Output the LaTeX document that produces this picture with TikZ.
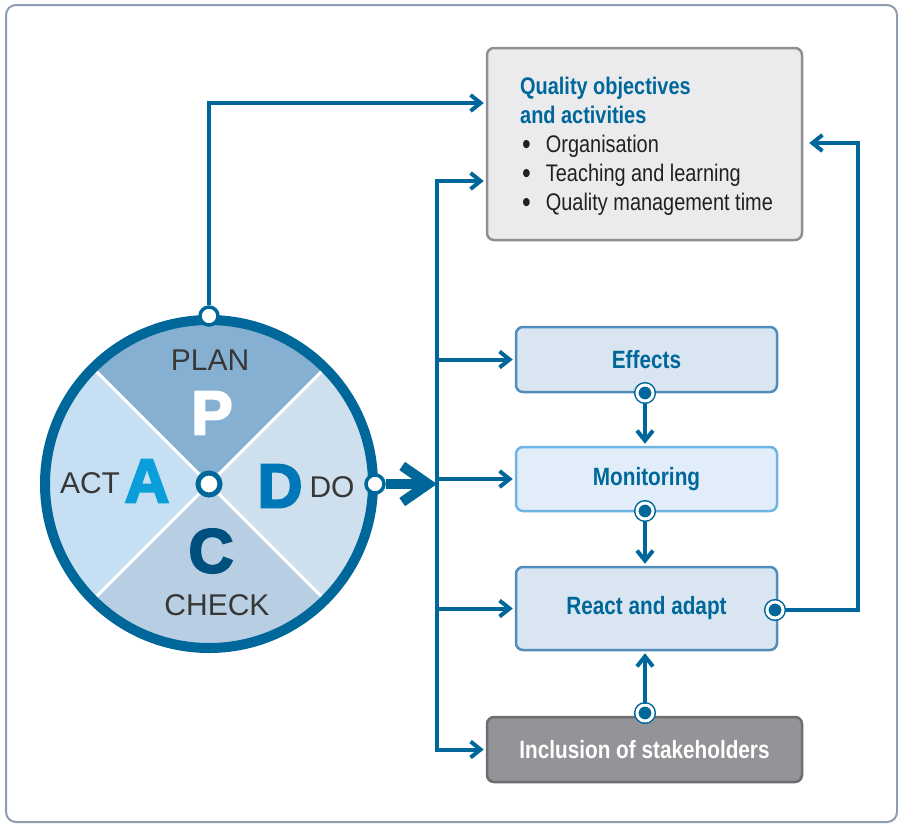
\documentclass[tikz,border=0pt]{standalone}
\usepackage{fontspec}
\setmainfont{Liberation Sans}
\newfontfamily\narrowfont[FakeStretch=0.83]{Liberation Sans}
\newfontfamily\heavyfont[FakeBold=3.5]{Liberation Sans Bold}
\usetikzlibrary{arrows.meta}

\definecolor{qblue}{RGB}{0,103,155}
\definecolor{framegray}{RGB}{142,157,176}
\definecolor{planfill}{RGB}{134,176,209}
\definecolor{dofill}{RGB}{206,223,237}
\definecolor{checkfill}{RGB}{184,206,226}
\definecolor{actfill}{RGB}{199,223,242}
\definecolor{acol}{RGB}{10,159,219}
\definecolor{dcol}{RGB}{0,119,182}
\definecolor{ccol}{RGB}{0,80,127}
\definecolor{labgray}{RGB}{55,55,55}
\definecolor{txtgray}{RGB}{35,31,32}
\definecolor{boxgray}{RGB}{235,235,237}
\definecolor{boxline}{RGB}{143,143,145}
\definecolor{stepfill}{RGB}{217,230,241}
\definecolor{stepline}{RGB}{80,140,188}
\definecolor{monfill}{RGB}{225,238,249}
\definecolor{monline}{RGB}{110,180,228}
\definecolor{incfill}{RGB}{147,148,151}
\definecolor{incline}{RGB}{109,110,113}

\newcommand{\qtitle}[1]{\textcolor{qblue}{\bfseries #1}}
\newcommand{\qitem}[1]{\hspace*{2pt}\raisebox{-2pt}[0pt][0pt]{\fontsize{30}{29}\selectfont\textbullet}\hspace{15pt}#1}

\tikzset{
  link/.style={qblue, line width=4pt},
  flow/.style={link, -{Straight Barb[length=10pt, width=16pt, sharp]}, shorten >=2pt},
  bigflow/.style={qblue, line width=10pt, -{Straight Barb[length=26pt, width=36pt, sharp]}},
  opendot/.style={circle, fill=white, draw=qblue, line width=3.5pt, minimum size=18pt, inner sep=0pt},
  fulldot/.style={circle, fill=qblue, draw=white, line width=3pt, minimum size=16pt, inner sep=0pt,
    preaction={draw=qblue, line width=6pt}},
  phase/.style={text=labgray, font=\fontsize{30}{30}\selectfont, inner sep=0pt},
  letter/.style={font=\heavyfont\fontsize{62}{62}\selectfont, inner sep=0pt},
  boxtext/.style={font=\narrowfont\bfseries\fontsize{25}{29}\selectfont},
  stepbox/.style={boxtext, rectangle, rounded corners=7pt, line width=2.5pt, draw=stepline,
    fill=stepfill, text=qblue, minimum width=261pt}
}

\begin{document}
\begin{tikzpicture}[x=1pt, y=-1pt]
\useasboundingbox (0,0) rectangle (898,823);
\draw[framegray, line width=2pt, rounded corners=10pt, fill=white] (6,5) rectangle (897,822);

\begin{scope}
\clip (209,484) circle (164pt);
\fill[planfill] (209,484) -- (9,284) -- (409,284) -- cycle;
\fill[dofill] (209,484) -- (409,284) -- (409,684) -- cycle;
\fill[checkfill] (209,484) -- (409,684) -- (9,684) -- cycle;
\fill[actfill] (209,484) -- (9,684) -- (9,284) -- cycle;
\draw[white, line width=3pt] (89,364) -- (329,604) (89,604) -- (329,364);
\end{scope}
\node[circle, draw=qblue, line width=10pt, minimum size=328pt] (pdca) at (209,484) {};
\node[circle, fill=white, draw=qblue, line width=5pt, minimum size=22pt, inner sep=0pt] (hub) at (pdca) {};

\node[phase] (planlab) at (210,360) {PLAN};
\node[letter, text=white] (pletter) at (212,413) {P};
\node[phase] (actlab) at (90,483) {ACT};
\node[letter, text=acol] (aletter) at (147,481) {A};
\node[letter, text=dcol] (dletter) at (280,486) {D};
\node[phase] (dolab) at (332,487) {DO};
\node[letter, text=ccol] (cletter) at (211,551) {C};
\node[phase] (checklab) at (217,605) {CHECK};

\node[opendot] (plandot) at (209,316) {};
\node[opendot] (dodot) at (375,484) {};

\node[rectangle, rounded corners=7pt, line width=2.5pt, draw=boxline, fill=boxgray,
  minimum width=315pt, minimum height=192pt] (quality) at (644.5,144) {};
\node[anchor=west, align=left, inner sep=0pt, text=txtgray, font=\narrowfont\fontsize{24}{29}\selectfont] (qtext) at (520,146)
  {\qtitle{Quality objectives}\\ \qtitle{and activities}\\ \qitem{Organisation}\\ \qitem{Teaching and learning}\\ \qitem{Quality management time}};

\node[stepbox, minimum height=65pt] (effects) at (646.5,359.5) {Effects};
\node[stepbox, minimum height=64pt, fill=monfill, draw=monline] (monitoring) at (646.5,479) {Monitoring};
\node[stepbox, minimum height=83pt] (react) at (646.5,608.5) {React and adapt};
\node[boxtext, rectangle, rounded corners=7pt, line width=2.5pt, draw=incline, fill=incfill, text=white,
  minimum width=315pt, minimum height=65pt] (inclusion) at (644.5,749.5) {Inclusion of stakeholders};

\node[fulldot] (effdot) at (645,393) {};
\node[fulldot] (mondot) at (645,511) {};
\node[fulldot] (reactdot) at (775,610) {};
\node[fulldot] (incdot) at (645,713) {};

\coordinate (busT) at (437,181);
\coordinate (busB) at (437,749.5);
\draw[link, line cap=rect] (busT) -- (busB);
\draw[flow] (busT) -- (busT -| quality.west);
\draw[flow] (busB |- effects) -- (effects.west);
\draw[flow] (busB |- monitoring) -- (monitoring.west);
\draw[flow] (busB |- react) -- (react.west);
\draw[flow] (busB) -- (inclusion.west);

\draw[flow] (plandot) |- (quality.west |- 0,103);
\draw[bigflow] (dodot) -- (dodot -| busT);

\draw[flow] (effdot) -- (effdot |- monitoring.north);
\draw[flow] (mondot) -- (mondot |- react.north);
\draw[flow] (incdot) -- (incdot |- react.south);
\draw[flow, shorten >=6pt] (reactdot) -- (reactdot -| 858,0) |- (quality.east |- 0,143);
\end{tikzpicture}
\end{document}
